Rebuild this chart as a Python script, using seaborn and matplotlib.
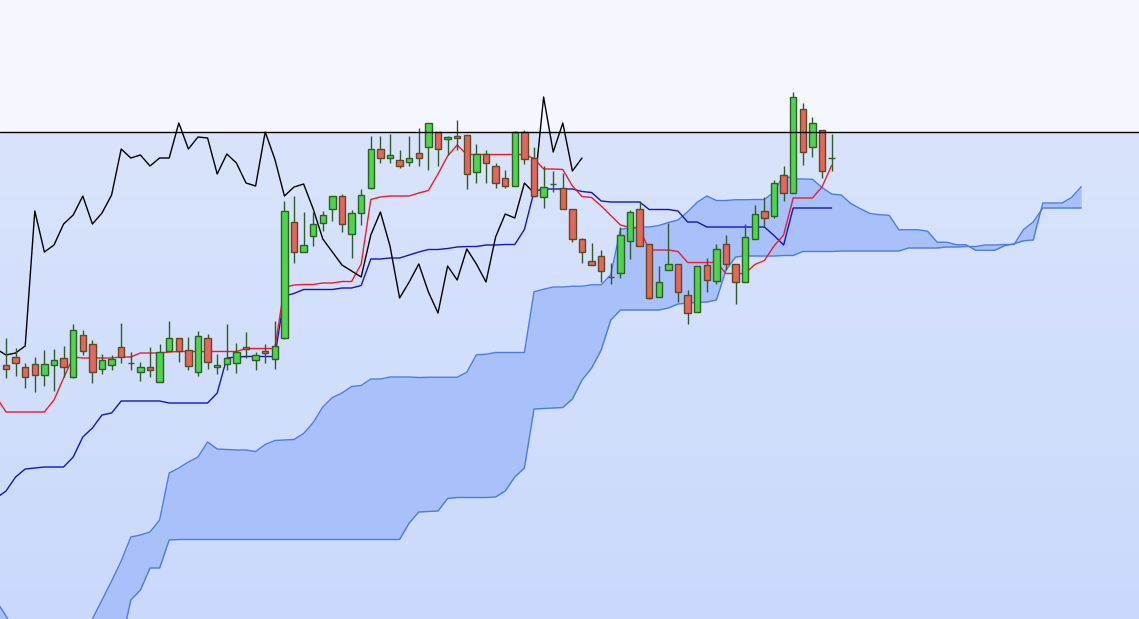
import numpy as np
import pandas as pd
import matplotlib
matplotlib.use("Agg")
import matplotlib.pyplot as plt
import seaborn as sns

# candle data (87 sessions), arbitrary price units
opens = [254, 262, 252, 255, 244, 254, 261, 242, 284, 275, 250, 254, 272, 256, 247, 252, 237, 268, 281, 269,
         247, 281, 252, 255, 256, 272, 259, 268, 260, 281, 397, 367, 383, 396, 410, 423, 385, 406, 431, 470,
         461, 459, 457, 466, 472, 487, 480, 483, 484, 447, 465, 453, 441, 433, 487, 461, 422, 435, 431, 410,
         380, 358, 363, 342, 346, 378, 410, 375, 322, 349, 355, 324, 307, 354, 338, 375, 355, 337, 380, 408,
         403, 444, 426, 510, 472, 489, 461]
highs = [281, 271, 256, 262, 269, 270, 273, 295, 289, 279, 265, 264, 296, 267, 257, 272, 275, 298, 281, 282,
         288, 285, 265, 295, 276, 287, 267, 275, 298, 418, 423, 407, 407, 408, 423, 425, 409, 430, 483, 483,
         485, 469, 483, 491, 496, 487, 483, 499, 484, 475, 469, 456, 449, 488, 489, 472, 453, 448, 446, 410,
         381, 376, 369, 356, 392, 409, 418, 375, 353, 396, 355, 329, 353, 361, 375, 384, 355, 395, 414, 422,
         439, 453, 527, 516, 502, 489, 485]
lows = [241, 243, 231, 227, 233, 228, 242, 241, 264, 236, 245, 249, 256, 249, 238, 242, 237, 268, 257, 249,
        243, 250, 245, 249, 246, 261, 249, 256, 250, 280, 356, 367, 373, 388, 398, 387, 361, 394, 430, 456,
        456, 451, 453, 453, 449, 453, 464, 469, 430, 436, 436, 431, 431, 433, 455, 422, 411, 427, 410, 377,
        356, 354, 337, 335, 341, 360, 373, 320, 322, 349, 317, 295, 307, 327, 335, 349, 315, 337, 380, 392,
        401, 418, 426, 454, 462, 441, 448]
closes = [250, 256, 242, 244, 255, 259, 252, 289, 268, 247, 259, 260, 262, 256, 252, 249, 267, 281, 268, 253,
          283, 257, 254, 261, 267, 270, 264, 266, 273, 408, 367, 374, 395, 404, 423, 395, 406, 424, 470, 461,
          464, 453, 461, 461, 496, 470, 482, 481, 445, 465, 456, 436, 433, 487, 460, 423, 432, 435, 410, 380,
          367, 354, 348, 342, 384, 407, 373, 321, 337, 355, 327, 306, 353, 339, 370, 355, 337, 382, 405, 401,
          436, 426, 522, 467, 496, 448, 461]

# conversion line (red) and base line (blue); first value is the session before the first candle
tenkan = [222, 207, 207, 207, 207, 207, 219, 241, 262, 261, 261, 261, 261, 262, 262, 266, 266, 266, 267, 267.5, 267.5,
          267.5, 267.5, 267.5, 267.5, 267.5, 270.5, 270.5, 270.5, 270.5, 331.5, 334, 334.5, 334.5, 336, 336, 337.5, 337.5, 355, 419.5, 422,
          423, 423, 423, 426, 428.5, 445, 463, 474, 464.5, 464.5, 464.5, 464.5, 464.5, 464.5, 464.5, 460.5, 450, 450, 449.5, 433,
          422.5, 421.5, 413, 403.5, 394, 391.5, 390.5, 369, 369, 369, 367.5, 356.5, 356.5, 356.5, 356.5, 345.5, 345.5, 345.5, 354.5, 358.5,
          373, 384, 421, 421, 421, 432, 453.5]
kijun = [121, 128, 142, 150, 151, 152, 152, 152, 162, 182, 191, 204, 206, 218, 218, 218, 218, 218, 216, 216, 216,
         216, 216, 226, 261, 262, 262.5, 262.5, 262.5, 262.5, 323, 325.5, 329.5, 329.5, 329.5, 329.5, 331, 331, 333.5, 360, 360,
         361, 361, 364, 367, 369.5, 369.5, 370.5, 372, 372.5, 372.5, 374, 374, 374.5, 374.5, 389.5, 427.5, 430, 430, 430, 430,
         427.5, 426.5, 418, 417, 417, 417, 417, 409.5, 409.5, 409.5, 408, 397, 397, 392, 392, 392, 392, 392, 392, 392,
         383.5, 374, 411, 411, 411, 411, 411]

# leading spans, from the session before the first candle to 26 beyond the last one
span_a = [18, 3, -13, -26, -33, -36, -36, -33, -29, -20, 0, 19, 38, 58, 82, 84, 87, 99, 146, 151, 157,
          162, 177, 170, 169.5, 169, 169, 167.5, 174.5, 178.5, 179, 179.5, 185.5, 196.5, 212, 221.5, 226, 232.5, 233.5, 240, 240,
          242, 242, 242, 241.5, 241.75, 241.75, 241.75, 241.75, 246.75, 264.25, 264.75, 266.5, 266.5, 266.5, 266.5, 327.25, 329.75, 332, 332, 332.75,
          332.75, 334.25, 334.25, 344.25, 389.75, 391, 392, 392, 393.5, 396.5, 399, 407.25, 416.75, 423, 418.5, 418.5, 419.25, 419.25, 419.5, 419.5,
          427, 444, 440, 440, 439.75, 431.5, 425, 424, 415.5, 410.25, 405.5, 404.25, 403.75, 389.25, 389.25, 389.25, 387.75, 376.75, 376.75, 374.25,
          374.25, 368.75, 368.75, 368.75, 373.25, 375.25, 378.25, 379, 416, 416, 416, 421.5, 432.25]
span_b = [-60, -60, -60, -60, -60, -60, -60, -60, -60, -58, -52, -45, -38, -25, 19, 29, 51, 51, 79, 79.5, 79.5,
          79.5, 79.5, 79.5, 79.5, 79.5, 79.5, 79.5, 79.5, 79.5, 79.5, 79.5, 79.5, 79.5, 79.5, 79.5, 79.5, 79.5, 79.5, 79.5, 79.5,
          79.5, 79.5, 96, 107, 107.5, 108, 120.5, 121.5, 121.5, 121.5, 121.5, 122, 128, 142, 151, 210, 210.5, 211, 211.5, 220,
          239, 251, 269, 299, 309, 309, 309, 309, 309, 311, 315, 316, 316.5, 317, 319, 349, 362, 363, 363, 363,
          363, 363.5, 363.5, 367.5, 367.5, 367.5, 367.5, 368, 368, 368, 368, 368, 368, 368, 371, 371, 371, 371, 372, 372,
          372.5, 372.5, 374, 374, 374.5, 374.5, 389.5, 397, 411, 411, 411, 411, 411]

last_price = 487
shift = 26

BG_TOP = "#f4f7fe"
CLOUD_FILL = "#a9c1fa"
CLOUD_EDGE = "#4d7ce0"
UP_FILL, UP_EDGE = "#4fd44f", "#2d5f23"
DOWN_FILL, DOWN_EDGE = "#e2675c", "#5e4a22"
WICK = "#2f5a2a"


def main():
    sns.set_style("white")
    n = len(closes)
    candles = pd.DataFrame({"open": opens, "high": highs, "low": lows, "close": closes})
    candles["idx"] = np.arange(n)
    lines = pd.DataFrame({"idx": np.arange(-1, n), "tenkan": tenkan, "kijun": kijun})
    cloud = pd.DataFrame({"idx": np.arange(-1, len(span_a) - 1), "a": span_a, "b": span_b})
    # lagging line: closes plotted 26 sessions back
    chikou = pd.DataFrame({"idx": np.arange(-1, n - shift), "close": closes[shift - 1:]})

    fig = plt.figure(figsize=(11.39, 6.19), dpi=100)
    ax = fig.add_axes([0, 0, 1, 1])
    x0, x1 = -0.625, 118.02
    y0, y1 = 0, 619

    # background: light band above the last price, blue gradient below
    grad = np.linspace(0, 1, 256).reshape(-1, 1)
    cmap = matplotlib.colors.LinearSegmentedColormap.from_list("bg", ["#cad9fb", "#d9e4fc"])
    ax.imshow(grad, extent=[x0, x1, y0, last_price], origin="lower", aspect="auto", cmap=cmap, zorder=0)
    ax.axhspan(last_price, y1, color=BG_TOP, zorder=0, lw=0)

    ax.fill_between(cloud["idx"], cloud["a"], cloud["b"], color=CLOUD_FILL, lw=0, zorder=1)
    sns.lineplot(data=cloud, x="idx", y="a", ax=ax, color=CLOUD_EDGE, lw=1, zorder=2)
    sns.lineplot(data=cloud, x="idx", y="b", ax=ax, color=CLOUD_EDGE, lw=1, zorder=2)

    sns.lineplot(data=lines, x="idx", y="kijun", ax=ax, color="#1414c8", lw=1, zorder=3)
    sns.lineplot(data=lines, x="idx", y="tenkan", ax=ax, color="#ec1c2a", lw=1, zorder=3)
    sns.lineplot(data=chikou, x="idx", y="close", ax=ax, color="black", lw=1, zorder=3)

    up = candles["close"] >= candles["open"]
    ax.vlines(candles["idx"], candles["low"], candles["high"], color=WICK, lw=1, zorder=4)
    body_lo = candles[["open", "close"]].min(axis=1)
    body_h = (candles["close"] - candles["open"]).abs()
    ax.bar(candles["idx"][up], body_h[up], bottom=body_lo[up], width=0.66,
           color=UP_FILL, edgecolor=UP_EDGE, lw=1, zorder=5)
    ax.bar(candles["idx"][~up], body_h[~up], bottom=body_lo[~up], width=0.66,
           color=DOWN_FILL, edgecolor=DOWN_EDGE, lw=1, zorder=5)

    ax.axhline(last_price, color="black", lw=1, zorder=6)

    ax.set_xlim(x0, x1)
    ax.set_ylim(y0, y1)
    ax.set_axis_off()
    fig.savefig("out.png", dpi=100)


if __name__ == "__main__":
    main()
